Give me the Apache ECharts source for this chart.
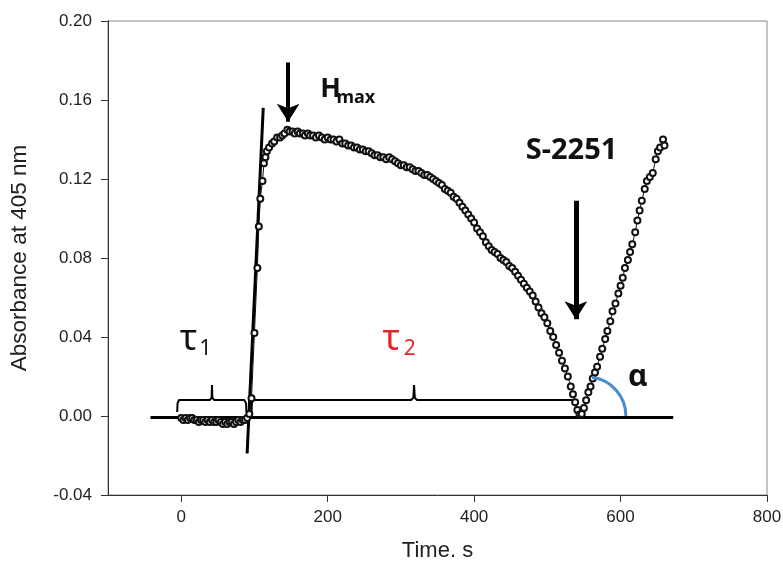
<!DOCTYPE html>
<html>
<head>
<meta charset="utf-8">
<script src="https://cdn.jsdelivr.net/npm/echarts@6/dist/echarts.min.js"></script>
<style>
  html, body { margin: 0; padding: 0; background: #fff; }
  #chart { width: 783px; height: 569px; }
</style>
</head>
<body>
<div id="chart"></div>
<script>
// time (s), absorbance at 405 nm
const baseline = [
  [0, -0.001], [3, -0.002], [6, -0.001], [9, -0.002], [12, -0.001], [15, -0.001],
  [18, -0.002], [21, -0.002], [24, -0.003], [27, -0.002], [30, -0.002], [33, -0.003],
  [36, -0.002], [39, -0.003], [42, -0.002], [45, -0.003], [48, -0.003], [51, -0.002],
  [54, -0.003], [57, -0.004], [60, -0.003], [63, -0.004], [66, -0.003], [69, -0.003],
  [72, -0.004], [75, -0.003], [78, -0.002], [81, -0.003], [84, -0.002], [87, -0.002], [90, -0.001]
]
const clotting = [
  [93, 0.001], [96, 0.009], [100, 0.042], [104, 0.075], [106, 0.096], [108, 0.110],
  [111, 0.119], [113, 0.128], [115, 0.131], [117, 0.134], [120, 0.136], [124, 0.138],
  [127, 0.139], [131, 0.141], [135, 0.141], [138, 0.142], [141, 0.143], [145, 0.145],
  [148, 0.144], [152, 0.144], [155, 0.143], [159, 0.144], [162, 0.143], [166, 0.143],
  [169, 0.142], [173, 0.143], [176, 0.142], [180, 0.142], [184, 0.141], [188, 0.142],
  [192, 0.141], [196, 0.140], [200, 0.141], [204, 0.140], [208, 0.140], [212, 0.139],
  [216, 0.140], [220, 0.138], [224, 0.138], [228, 0.137], [232, 0.137], [236, 0.136],
  [240, 0.136], [244, 0.135], [248, 0.135], [252, 0.134], [256, 0.134], [260, 0.133],
  [264, 0.132], [268, 0.132], [272, 0.131], [276, 0.131], [280, 0.130], [284, 0.131],
  [288, 0.130], [292, 0.129], [296, 0.128], [300, 0.127], [304, 0.127], [308, 0.126],
  [312, 0.126], [316, 0.125], [320, 0.124], [324, 0.124], [328, 0.123], [332, 0.122],
  [336, 0.122], [340, 0.121], [344, 0.120], [348, 0.119], [352, 0.118], [356, 0.117],
  [360, 0.115], [364, 0.114], [368, 0.113], [372, 0.111], [376, 0.110], [380, 0.108],
  [384, 0.106], [388, 0.104], [392, 0.102], [396, 0.100], [400, 0.098], [404, 0.095],
  [408, 0.093], [412, 0.091], [416, 0.088], [420, 0.086], [424, 0.084], [428, 0.083],
  [432, 0.082], [436, 0.080], [440, 0.079], [444, 0.078], [448, 0.076], [452, 0.075],
  [456, 0.073], [460, 0.071], [464, 0.069], [468, 0.067], [472, 0.065], [476, 0.063],
  [480, 0.061], [484, 0.058], [488, 0.055], [492, 0.052], [496, 0.050], [500, 0.047],
  [504, 0.043], [508, 0.040], [512, 0.036], [516, 0.032], [520, 0.028], [524, 0.024],
  [528, 0.020], [532, 0.015], [535, 0.011], [538, 0.007], [541, 0.003], [544, 0.0008]
]
const afterS2251 = [
  [547, 0.001], [550, 0.004], [553, 0.008], [556, 0.012], [559, 0.015], [562, 0.019],
  [565, 0.022], [568, 0.025], [572, 0.030], [575, 0.034], [579, 0.039], [582, 0.043],
  [586, 0.048], [589, 0.053], [593, 0.057], [597, 0.062], [600, 0.066], [603, 0.070],
  [606, 0.075], [610, 0.079], [613, 0.083], [616, 0.087], [620, 0.093], [623, 0.099],
  [626, 0.104], [629, 0.109], [633, 0.115], [636, 0.119], [640, 0.121], [644, 0.123],
  [648, 0.130], [651, 0.134], [654, 0.136], [658, 0.140], [660, 0.137]
]

// annotation lines (data coordinates)
const zeroLine = [[-42, -0.0008], [672, -0.0008]]
const tangentLine = [[90, -0.019], [112, 0.156]]
const brace1 = [
  [-5.5, 0.002], [-5, 0.0065], [-3, 0.0081], [39, 0.0081], [41.5, 0.0092],
  [42, 0.0157], [42.5, 0.0092], [45, 0.0081], [86, 0.0081], [88.5, 0.0065], [89, 0.002]
]
const brace2 = [
  [96, 0.002], [96.5, 0.0065], [98, 0.0081], [314, 0.0081], [317, 0.0092],
  [318, 0.0157], [319, 0.0092], [322, 0.0081], [535, 0.0081], [539, 0.0065], [540, 0.002]
]
const hmaxArrow = [[146, 0.179], [146, 0.149]]
const s2251Arrow = [[539, 0.109], [539, 0.049]]

const xTicks = [0, 200, 400, 600, 800]

const chart = echarts.init(document.getElementById('chart'))

const curveStyle = {
  type: 'line',
  symbol: 'emptyCircle',
  symbolSize: 6,
  lineStyle: { color: '#111', width: 1 },
  itemStyle: { color: '#111', borderWidth: 1.4 },
  silent: true
}
const annotLine = (data, width) => ({
  type: 'line',
  data: data,
  symbol: 'none',
  lineStyle: { color: '#000', width: width },
  silent: true,
  z: 3
})
const arrow = (data, width) => ({
  type: 'line',
  data: [],
  silent: true,
  markLine: {
    silent: true,
    symbol: ['none', 'arrow'],
    symbolSize: [17, 18],
    label: { show: false },
    lineStyle: { color: '#000', width: width, type: 'solid' },
    data: [[{ coord: data[0] }, { coord: data[1] }]]
  }
})

chart.setOption({
  animation: false,
  grid: {
    left: 108, right: 16, top: 21, bottom: 74,
    outerBoundsMode: 'none',
    containLabel: false,
    show: true, borderColor: '#888', borderWidth: 1
  },
  xAxis: {
    type: 'value',
    min: -100,
    max: 800,
    name: 'Time. s',
    nameLocation: 'middle',
    nameGap: 45,
    nameTextStyle: { fontFamily: 'Liberation Sans', fontSize: 22, color: '#222' },
    axisLine: { show: true, onZero: false, lineStyle: { color: '#333', width: 1 } },
    axisTick: { show: true, length: 7, customValues: xTicks, lineStyle: { color: '#333' } },
    axisLabel: { customValues: xTicks, margin: 14, fontFamily: 'Liberation Sans', fontSize: 17, color: '#222' },
    splitLine: { show: false }
  },
  yAxis: {
    type: 'value',
    min: -0.04,
    max: 0.2,
    interval: 0.04,
    name: 'Absorbance at 405 nm',
    nameLocation: 'middle',
    nameGap: 77,
    nameTextStyle: { fontFamily: 'Liberation Sans', fontSize: 22.5, color: '#222' },
    axisLine: { show: true, onZero: false, lineStyle: { color: '#333', width: 1 } },
    axisTick: { show: true, length: 7, lineStyle: { color: '#333' } },
    axisLabel: {
      margin: 16, fontFamily: 'Liberation Sans', fontSize: 17, color: '#222',
      formatter: v => v.toFixed(2)
    },
    splitLine: { show: false }
  },
  series: [
    annotLine(zeroLine, 3),
    annotLine(tangentLine, 3),
    annotLine(brace1, 2),
    annotLine(brace2, 2),
    Object.assign({ data: baseline }, curveStyle),
    Object.assign({ data: clotting }, curveStyle),
    Object.assign({ data: afterS2251 }, curveStyle),
    arrow(hmaxArrow, 4),
    arrow(s2251Arrow, 5)
  ]
})

// text labels and the alpha arc, anchored to data coordinates
const px = p => chart.convertToPixel({ gridIndex: 0 }, p)
const txt = (p, text, size, opts) => {
  const q = px(p)
  return {
    type: 'text',
    x: q[0], y: q[1],
    silent: true,
    z: 10,
    style: {
      text: text,
      font: (opts && opts.bold ? 'bold ' : '') + size + 'px "Noto Sans", "Liberation Sans", sans-serif',
      fill: (opts && opts.color) || '#111',
      align: (opts && opts.align) || 'left',
      verticalAlign: 'middle'
    }
  }
}
const arcCenter = px([554, 0])
chart.setOption({
  graphic: [
    txt([190, 0.1655], 'H', 27, { bold: true }),
    txt([212, 0.161], 'max', 18, { bold: true }),
    txt([533, 0.1345], 'S-2251', 29, { bold: true, align: 'center' }),
    txt([610, 0.0195], 'α', 30, { bold: true }),
    txt([-2, 0.0385], 'τ', 36, {}),
    txt([25, 0.034], '1', 21, {}),
    txt([275, 0.0385], 'τ', 36, { color: '#e3242b' }),
    txt([304, 0.034], '2', 21, { color: '#e3242b' }),
    {
      type: 'arc',
      silent: true,
      z: 10,
      shape: { cx: arcCenter[0], cy: arcCenter[1], r: 39, startAngle: -1.44, endAngle: 0, clockwise: true },
      style: { stroke: '#4a8bc9', lineWidth: 3, fill: null }
    }
  ]
})
</script>
</body>
</html>
